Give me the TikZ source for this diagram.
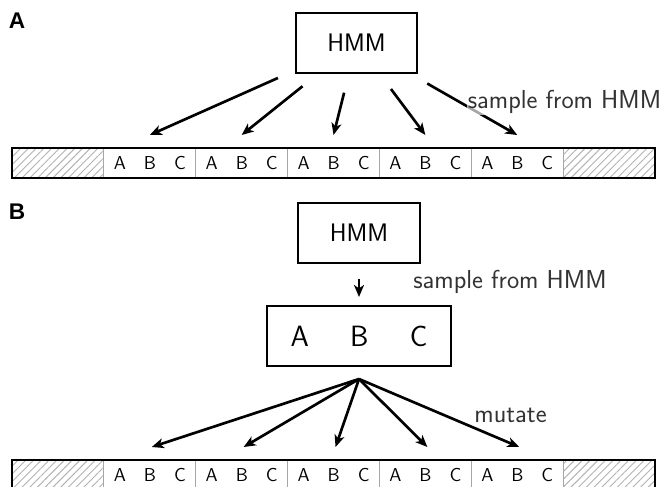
\documentclass[tikz,border=0pt]{standalone}
\usepackage{fontspec}
\usepackage{tikz}
\newfontfamily\panelfont{Liberation Sans}
\newcommand{\abcrow}{A\hspace{13.5pt}B\hspace{13.5pt}C}
\newcommand{\bigabc}{A\hspace{31pt}B\hspace{31pt}C}
\usetikzlibrary{positioning, calc, patterns.meta, arrows.meta}

\tikzset{
  box/.style={draw, line width=1.5pt, inner sep=0pt, font=\sffamily\fontsize{19}{21}\selectfont},
  cell/.style={draw=gray!70, line width=.6pt, minimum width=68.9pt, minimum height=22.5pt, inner sep=0pt, font=\sffamily\fontsize{14}{16}\selectfont},
  hatch/.style={pattern={Lines[angle=45,distance=4.1pt,line width=.7pt]}, pattern color=gray!60},
  lbl/.style={text=black!80, font=\sffamily\fontsize{19.5}{22}\selectfont, fill=white, fill opacity=.65, text opacity=1, inner sep=1pt},
  panel/.style={font=\panelfont\bfseries\fontsize{17}{19}\selectfont},
  fan/.style={->, >={Stealth[length=9pt, width=7.5pt, inset=2.5pt]}, line width=2pt},
}

\begin{document}
\begin{tikzpicture}[x=.75pt, y=-.75pt]
\useasboundingbox (0,0) rectangle (664,486);
\clip (0,0) rectangle (664,486);

% panel A
\node[panel] (labA) at (17,21) {A};
\node[box, minimum width=90.75pt, minimum height=45pt] (hmmA) at (356.5,43) {HMM};

\node[cell, hatch] (a0) at ({12+91.86*.5},163) {};
\node[cell, hatch] (a6) at ({12+91.86*6.5},163) {};
\foreach \i in {1,...,5}
{
    \node[cell] (a\i) at ({12+91.86*(\i+.5)},163) {\abcrow};
    \coordinate (ta\i) at ({12+91.86*(\i+.5)},135);
}
\draw[line width=1.5pt] (a0.north west) rectangle (a6.south east);

\foreach \i/\f in {1/.38, 2/.47, 3/.54, 4/.5, 5/.44}
{
    \draw[fan] ($(hmmA.center)!\f!(ta\i)$) -- (ta\i);
}
\node[lbl] (sampA) at (564.5,102) {sample from HMM};

% panel B
\node[panel] (labB) at (17,212) {B};
\node[box, minimum width=91.5pt, minimum height=45pt] (hmmB) at (359,233) {HMM};
\node[box, minimum width=138pt, minimum height=45pt, font=\sffamily\fontsize{22}{24}\selectfont] (abc) at (359,336) {\bigabc};
\draw[fan, shorten <=11pt, shorten >=6pt] (hmmB) -- (abc);
\node[lbl] (sampB) at (510,282) {sample from HMM};

\node[cell, hatch] (b0) at ({12+91.86*.5},475.5) {};
\node[cell, hatch] (b6) at ({12+91.86*6.5},475.5) {};
\foreach \i in {1,...,5}
{
    \node[cell] (b\i) at ({12+91.86*(\i+.5)},475.5) {\abcrow};
    \coordinate (tb\i) at ({14+91.86*(\i+.5)},447);
}
\draw[line width=1.5pt] (b0.north west) rectangle (b6.south east);

\coordinate (fork) at ($(abc.south)+(0,12)$);
\foreach \i in {1,...,5}
{
    \draw[fan] (fork) -- (tb\i);
}
\node[lbl] (mut) at (510.5,415) {mutate};

\end{tikzpicture}
\end{document}
